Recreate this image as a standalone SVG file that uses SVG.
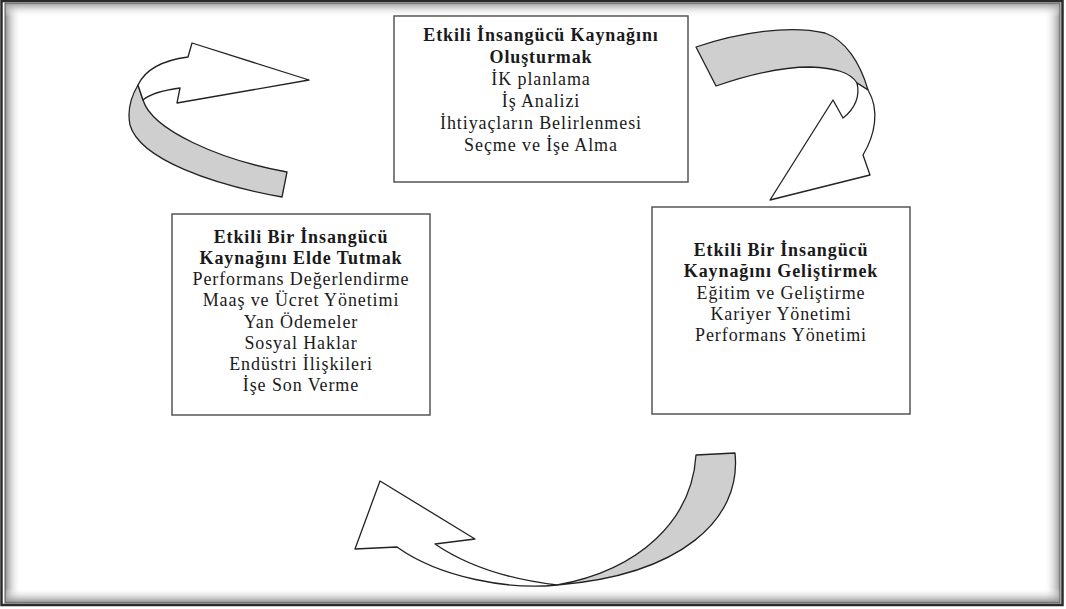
<svg xmlns="http://www.w3.org/2000/svg" width="1066" height="609" viewBox="0 0 1066 609">
<defs>
<linearGradient id="gl" x1="0" y1="0" x2="1" y2="0"><stop offset="0" stop-color="#8a8a8a"/><stop offset="1" stop-color="#fff" stop-opacity="0"/></linearGradient>
<linearGradient id="gr" x1="1" y1="0" x2="0" y2="0"><stop offset="0" stop-color="#9a9a9a"/><stop offset="1" stop-color="#fff" stop-opacity="0"/></linearGradient>
<linearGradient id="gt" x1="0" y1="0" x2="0" y2="1"><stop offset="0" stop-color="#9a9a9a"/><stop offset="1" stop-color="#fff" stop-opacity="0"/></linearGradient>
<linearGradient id="gb" x1="0" y1="1" x2="0" y2="0"><stop offset="0" stop-color="#8a8a8a"/><stop offset="1" stop-color="#fff" stop-opacity="0"/></linearGradient>
</defs>
<style>
.box{fill:#fff;stroke:#555;stroke-width:1.5}
.t{font-family:"Liberation Serif","Times New Roman",serif;font-size:18px;letter-spacing:0.9px;fill:#1a1a1a;text-anchor:middle}
.b{font-weight:bold}
.band{fill:#cfcfcf;stroke:#222;stroke-width:1.3;stroke-linejoin:round}
.head{fill:#fff;stroke:#222;stroke-width:1.3;stroke-linejoin:round}
</style>
<rect x="0" y="0" width="1066" height="609" fill="#fff"/>
<g id="frame">
<rect x="5" y="3" width="16" height="600" fill="url(#gl)"/>
<rect x="1044" y="3" width="16" height="600" fill="url(#gr)"/>
<rect x="5" y="3" width="1055" height="14" fill="url(#gt)"/>
<rect x="5" y="588" width="1055" height="15" fill="url(#gb)"/>
<rect x="1.5" y="1" width="1061" height="604" fill="none" stroke="#2a2a2a" stroke-width="2.5"/>
<rect x="5" y="3" width="1055" height="600" fill="none" stroke="#555" stroke-width="1"/>
</g>
<g id="connectors">
<g id="arrow-top-left">
<path class="band" d="M138,85 L143,100 C152,130 220,160 287,172 L282,197 C215,185 140,160 130,125 C127,110 132,95 138,85 Z"/>
<path class="head" d="M138,85 C146,68 165,60 188,57 L192,43 L309,80 L177,103 L180,88 C165,90 150,94 143,100 Z"/>
</g>
<g id="arrow-top-right">
<path class="band" d="M696,47 C740,32 790,25 825,33 C845,40 860,62 868,90 L857,83 C850,72 835,68 810,67 C780,67 745,76 716,86 Z"/>
<path class="head" d="M857,83 C860,95 856,108 843,118 L833,100 L770,200 L870,175 L863,155 C875,135 880,110 868,90 Z"/>
</g>
<g id="arrow-bottom">
<path class="band" d="M696,455 L735,453 C742,520 680,575 557,585 C640,570 692,520 696,455 Z"/>
<path class="head" d="M557,585 C510,590 440,578 397,547 L355,549 L380,481 L475,539 L435,544 C470,568 515,580 557,585 Z"/>
</g>
</g>
<g id="node-top">
<rect class="box" x="394" y="16" width="294" height="166"/>
<text class="t b" x="541" y="41">Etkili İnsangücü Kaynağını</text>
<text class="t b" x="541" y="63">Oluşturmak</text>
<text class="t" x="541" y="85">İK planlama</text>
<text class="t" x="541" y="107">İş Analizi</text>
<text class="t" x="541" y="129">İhtiyaçların Belirlenmesi</text>
<text class="t" x="541" y="151">Seçme ve İşe Alma</text>
</g>
<g id="node-left">
<rect class="box" x="172" y="214" width="258" height="201"/>
<text class="t b" x="301" y="243">Etkili Bir İnsangücü</text>
<text class="t b" x="301" y="264">Kaynağını Elde Tutmak</text>
<text class="t" x="301" y="285">Performans Değerlendirme</text>
<text class="t" x="301" y="306">Maaş ve Ücret Yönetimi</text>
<text class="t" x="301" y="328">Yan Ödemeler</text>
<text class="t" x="301" y="349">Sosyal Haklar</text>
<text class="t" x="301" y="370">Endüstri İlişkileri</text>
<text class="t" x="301" y="391">İşe Son Verme</text>
</g>
<g id="node-right">
<rect class="box" x="652" y="207" width="258" height="207"/>
<text class="t b" x="781" y="256">Etkili Bir İnsangücü</text>
<text class="t b" x="781" y="277">Kaynağını Geliştirmek</text>
<text class="t" x="781" y="299">Eğitim ve Geliştirme</text>
<text class="t" x="781" y="320">Kariyer Yönetimi</text>
<text class="t" x="781" y="341">Performans Yönetimi</text>
</g>
</svg>
